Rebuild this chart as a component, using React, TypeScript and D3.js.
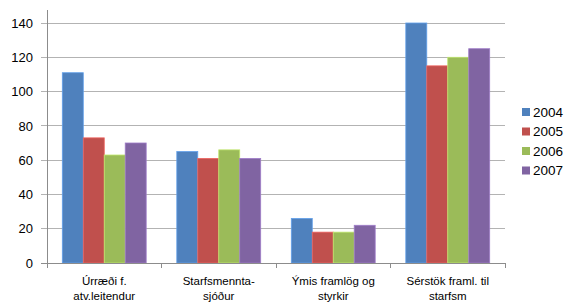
import React, { useEffect, useRef } from 'react';
import * as d3 from 'd3';

const categories = [
  ['Úrræði f.', 'atv.leitendur'],
  ['Starfsmennta-', 'sjóður'],
  ['Ýmis framlög og', 'styrkir'],
  ['Sérstök framl. til', 'starfsm'],
];
const years = ['2004', '2005', '2006', '2007'];
const values2004 = [111, 65, 26, 140];
const values2005 = [73, 61, 18, 115];
const values2006 = [63, 66, 18, 120];
const values2007 = [70, 61, 22, 125];
const yTicks = [0, 20, 40, 60, 80, 100, 120, 140];
const colors = ['#4F81BD', '#C0504D', '#9BBB59', '#8064A2'];

export default function App() {
  const svgRef = useRef<SVGSVGElement>(null);

  useEffect(() => {
    document.body.style.margin = '0';
    const W = 572, H = 302;
    const left = 47, right = 505, top = 23, bottom = 263;
    const series = [values2004, values2005, values2006, values2007];

    const svg = d3.select(svgRef.current).attr('width', W).attr('height', H).html('');
    svg.append('rect').attr('width', W).attr('height', H).attr('fill', '#fff');

    const y = d3.scaleLinear().domain([0, 140]).range([bottom, top]);
    const x0 = d3.scaleBand().domain(categories.map((_, i) => String(i))).range([left, right]).paddingInner(0).paddingOuter(0);
    const x1 = d3.scaleBand().domain(years).range([0, x0.bandwidth()]).paddingInner(0).paddingOuter(0.73);

    // gridlines
    svg.append('g')
      .selectAll('line')
      .data(yTicks.filter(t => t > 0))
      .enter().append('line')
      .attr('x1', left - 6).attr('x2', right)
      .attr('y1', d => y(d)).attr('y2', d => y(d))
      .attr('stroke', '#b3b3b3').attr('stroke-width', 1)
      .attr('shape-rendering', 'crispEdges');

    // bars
    const groups = svg.append('g').selectAll('g')
      .data(categories)
      .enter().append('g')
      .attr('transform', (_, i) => `translate(${x0(String(i))},0)`);

    groups.selectAll('rect')
      .data((_, i) => series.map((s, k) => ({ year: years[k], value: s[i], k })))
      .enter().append('rect')
      .attr('x', d => x1(d.year)!)
      .attr('width', x1.bandwidth())
      .attr('y', d => y(d.value))
      .attr('height', d => y(0) - y(d.value))
      .attr('fill', d => colors[d.k])
      .attr('stroke', d => d3.color(colors[d.k])!.brighter(0.6).toString())
      .attr('stroke-width', 0.8);

    // y axis
    svg.append('line')
      .attr('x1', left).attr('x2', left).attr('y1', 10).attr('y2', bottom)
      .attr('stroke', '#8c8c8c').attr('shape-rendering', 'crispEdges');
    svg.append('line')
      .attr('x1', left - 6).attr('x2', left).attr('y1', bottom).attr('y2', bottom)
      .attr('stroke', '#8c8c8c').attr('shape-rendering', 'crispEdges');
    svg.append('g').selectAll('text')
      .data(yTicks)
      .enter().append('text')
      .attr('x', 33).attr('y', d => y(d))
      .attr('dy', '0.36em')
      .attr('text-anchor', 'end')
      .attr('font-family', 'Liberation Sans, Arial, sans-serif')
      .attr('font-size', 13)
      .attr('fill', '#000')
      .text(d => d);

    // x axis
    svg.append('line')
      .attr('x1', left).attr('x2', right).attr('y1', bottom).attr('y2', bottom)
      .attr('stroke', '#8c8c8c').attr('shape-rendering', 'crispEdges');
    const boundaries = categories.map((_, i) => x0(String(i))!).concat([right]);
    svg.append('g').selectAll('line')
      .data(boundaries)
      .enter().append('line')
      .attr('x1', d => d).attr('x2', d => d)
      .attr('y1', bottom).attr('y2', bottom + 5)
      .attr('stroke', '#8c8c8c').attr('shape-rendering', 'crispEdges');

    const labels = svg.append('g').selectAll('text')
      .data(categories)
      .enter().append('text')
      .attr('x', (_, i) => x0(String(i))! + x0.bandwidth() / 2)
      .attr('y', 285)
      .attr('text-anchor', 'middle')
      .attr('font-family', 'Liberation Sans, Arial, sans-serif')
      .attr('font-size', 11.5)
      .attr('fill', '#000');
    labels.append('tspan').attr('x', (_, i) => x0(String(i))! + x0.bandwidth() / 2).text(d => d[0]);
    labels.append('tspan').attr('x', (_, i) => x0(String(i))! + x0.bandwidth() / 2).attr('dy', 15).text(d => d[1]);

    // legend
    const legend = svg.append('g').selectAll('g')
      .data(years)
      .enter().append('g')
      .attr('transform', (_, i) => `translate(522, ${112 + i * 19.5})`);
    legend.append('rect')
      .attr('x', 0).attr('y', -4).attr('width', 8).attr('height', 8)
      .attr('fill', (_, i) => colors[i]);
    legend.append('text')
      .attr('x', 11).attr('y', 0).attr('dy', '0.36em')
      .attr('font-family', 'Liberation Sans, Arial, sans-serif')
      .attr('font-size', 13.5)
      .attr('fill', '#000')
      .text(d => d);
  }, []);

  return <svg ref={svgRef} style={{ display: 'block' }} />;
}
